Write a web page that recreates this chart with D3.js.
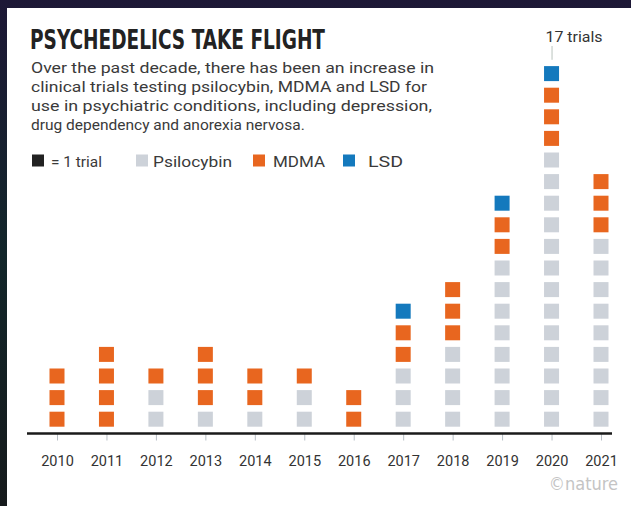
<!DOCTYPE html>
<html><head><meta charset="utf-8">
<script src="https://cdn.jsdelivr.net/npm/d3@7"></script>
<style>html,body{margin:0;padding:0;background:#141a28;}svg{display:block;}</style>
</head><body>
<svg id="chart" width="631" height="506"></svg>
<script>
const years = ["2010","2011","2012","2013","2014","2015","2016","2017","2018","2019","2020","2021"];
const psilocybin = [0,0,2,1,1,2,0,3,4,8,13,9];
const mdma       = [3,4,1,3,2,1,2,2,3,2,3,3];
const lsd        = [0,0,0,0,0,0,0,1,0,1,1,0];
const seriesNames = ["Psilocybin","MDMA","LSD"];
const seriesColors = ["#cdd2d9","#e8661f","#1479bd"];
const titleText = "PSYCHEDELICS TAKE FLIGHT";
const subtitleLines = [
  "Over the past decade, there has been an increase in",
  "clinical trials testing psilocybin, MDMA and LSD for",
  "use in psychiatric conditions, including depression,",
  "drug dependency and anorexia nervosa."
];
const annotation = "17 trials";

const svg = d3.select("#chart");
const defs = svg.append("defs");
const g = defs.append("linearGradient").attr("id","bg").attr("x1",0).attr("y1",0).attr("x2",0).attr("y2",1);
g.append("stop").attr("offset","0%").attr("stop-color","#1d1836");
g.append("stop").attr("offset","50%").attr("stop-color","#12262a");
g.append("stop").attr("offset","100%").attr("stop-color","#161a1c");
svg.append("rect").attr("width",631).attr("height",506).attr("fill","url(#bg)");
svg.append("rect").attr("x",7).attr("y",8).attr("width",624).attr("height",498).attr("fill","#ffffff");

// title
svg.append("text").attr("x",30).attr("y",48.5)
  .attr("font-family","'Liberation Sans Narrow','DejaVu Sans Condensed','Roboto Condensed',sans-serif")
  .attr("font-weight","bold").attr("font-size",27).attr("fill","#222")
  .attr("textLength",295).attr("lengthAdjust","spacingAndGlyphs")
  .text(titleText);

const subW = [403, 396, 401, null];
subtitleLines.forEach((t,i)=>{
  const tx = svg.append("text").attr("x",31).attr("y",73.3 + i*19)
    .attr("font-family","Roboto, 'Noto Sans', sans-serif").attr("font-size",15.5).attr("fill","#3a3a3a")
    .text(t);
  if (subW[i]) tx.attr("textLength",subW[i]).attr("lengthAdjust","spacingAndGlyphs");
});

// legend
const legend = [
  {label:"= 1 trial", color:"#222222", sx:32, tx:51, w:51},
  {label:seriesNames[0], color:seriesColors[0], sx:136, tx:153, w:79},
  {label:seriesNames[1], color:seriesColors[1], sx:253, tx:273, w:52},
  {label:seriesNames[2], color:seriesColors[2], sx:343, tx:368, w:35}
];
legend.forEach(l=>{
  svg.append("rect").attr("x",l.sx).attr("y",154.5).attr("width",12).attr("height",12).attr("fill",l.color);
  svg.append("text").attr("x",l.tx).attr("y",166.5)
    .attr("font-family","Roboto, 'Noto Sans', sans-serif").attr("font-size",14.5).attr("fill","#3a3a3a")
    .attr("textLength",l.w).attr("lengthAdjust","spacingAndGlyphs")
    .text(l.label);
});

// scales
const x = d3.scalePoint().domain(years).range([57, 601]);
const step = 21.6;
const y = d3.scaleLinear().domain([0, 17]).range([430, 430 - 17*step]);
const sq = 15;

const units = [];
years.forEach((yr,i)=>{
  let k = 0;
  [psilocybin[i], mdma[i], lsd[i]].forEach((n,s)=>{
    for(let j=0;j<n;j++){ units.push({year:yr, idx:k, s}); k++; }
  });
});

svg.append("g").selectAll("rect").data(units).join("rect")
  .attr("x", d=>x(d.year)-sq/2)
  .attr("y", d=>(y(d.idx)+y(d.idx+1))/2 - sq/2)
  .attr("width", sq).attr("height", sq)
  .attr("fill", d=>seriesColors[d.s]);

// axis
const axisG = svg.append("g").attr("transform","translate(0,433.5)");
axisG.call(d3.axisBottom(x).tickSize(7));
axisG.select(".domain").remove();
axisG.selectAll(".tick line").attr("stroke","#b8bfc6").attr("stroke-width",1);
axisG.selectAll(".tick text").attr("font-family","Roboto, 'Noto Sans', sans-serif").attr("font-size",14.5).attr("fill","#333")
  .attr("dy","0em").attr("y",32);
axisG.append("line").attr("x1",27).attr("x2",612).attr("y1",0).attr("y2",0).attr("stroke","#1a1a1a").attr("stroke-width",2.5);

// annotation
const totals2020 = psilocybin[10]+mdma[10]+lsd[10];
svg.append("line").attr("x1",x("2020")+0.5).attr("x2",x("2020")+0.5)
  .attr("y1",46).attr("y2",y(totals2020)-3).attr("stroke","#b9c4bd").attr("stroke-width",1);
svg.append("text").attr("x",574).attr("y",42).attr("text-anchor","middle")
  .attr("font-family","Roboto, 'Noto Sans', sans-serif").attr("font-size",14).attr("fill","#333")
  .attr("textLength",57).attr("lengthAdjust","spacingAndGlyphs")
  .text(annotation);

// credit
svg.append("text").attr("x",618).attr("y",490).attr("text-anchor","end")
  .attr("font-family","'Liberation Sans Narrow','DejaVu Sans Condensed',sans-serif").attr("font-size",18).attr("fill","#c4c4c4")
  .text("©nature");
</script>
</body></html>
